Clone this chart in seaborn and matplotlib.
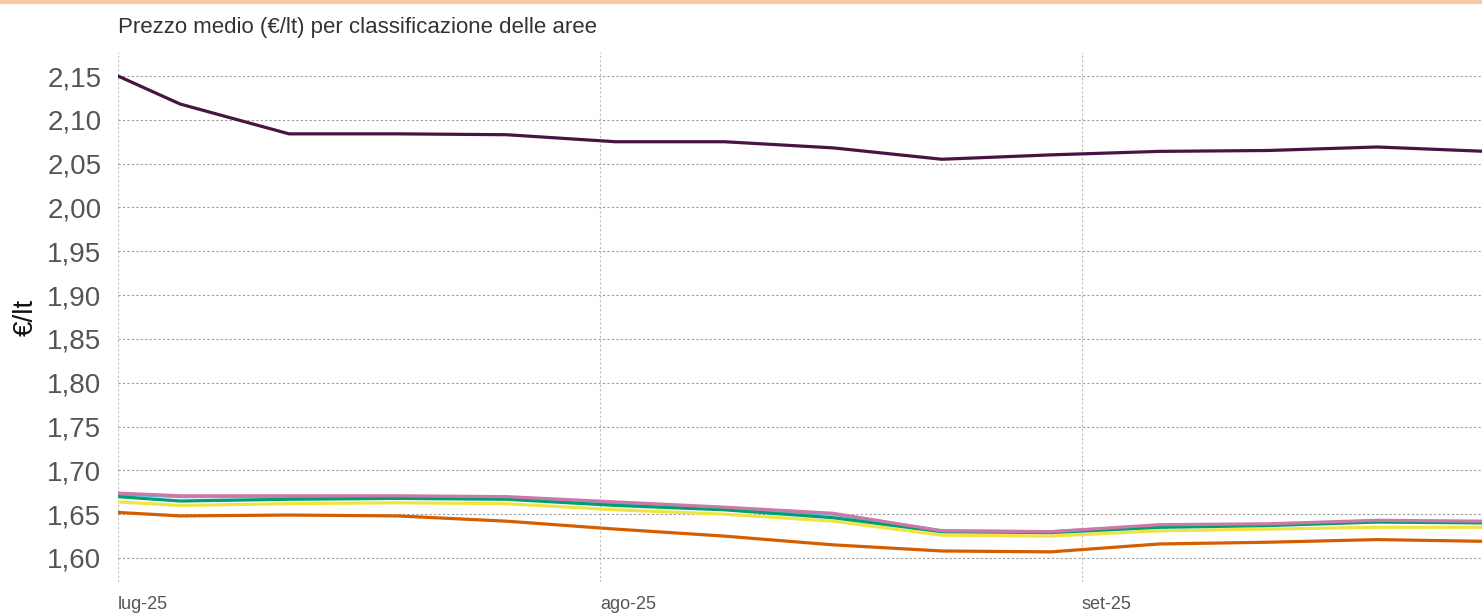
import matplotlib
matplotlib.use("Agg")
import matplotlib.pyplot as plt
from matplotlib.patches import Rectangle
import pandas as pd
import seaborn as sns

# Weekly survey dates
dates = ["2025-07-01", "2025-07-05", "2025-07-12", "2025-07-19", "2025-07-26",
         "2025-08-02", "2025-08-09", "2025-08-16", "2025-08-23", "2025-08-30",
         "2025-09-06", "2025-09-13", "2025-09-20", "2025-09-27"]

# Average price (€/lt) per area classification
autostrade = [2.150, 2.118, 2.084, 2.084, 2.083, 2.075, 2.075, 2.068, 2.055, 2.060,
              2.064, 2.065, 2.069, 2.064]
capoluoghi = [1.674, 1.671, 1.671, 1.671, 1.670, 1.664, 1.658, 1.651, 1.631, 1.630,
              1.638, 1.639, 1.643, 1.642]
urbane = [1.673, 1.670, 1.670, 1.670, 1.669, 1.663, 1.657, 1.650, 1.631, 1.630,
          1.637, 1.638, 1.642, 1.641]
extraurbane = [1.670, 1.665, 1.667, 1.668, 1.667, 1.660, 1.655, 1.646, 1.630, 1.629,
               1.635, 1.637, 1.641, 1.640]
montane = [1.664, 1.660, 1.662, 1.663, 1.662, 1.655, 1.650, 1.642, 1.626, 1.625,
           1.631, 1.633, 1.635, 1.635]
rurali = [1.652, 1.648, 1.649, 1.648, 1.642, 1.633, 1.625, 1.615, 1.608, 1.607,
          1.616, 1.618, 1.621, 1.619]

series = {
    "Rurali": rurali,
    "Montane": montane,
    "Urbane": urbane,
    "Extraurbane": extraurbane,
    "Capoluoghi": capoluoghi,
    "Autostrade": autostrade,
}
palette = {
    "Rurali": "#D55E00",
    "Montane": "#F0E442",
    "Extraurbane": "#009E73",
    "Urbane": "#56B4E9",
    "Capoluoghi": "#CC79A7",
    "Autostrade": "#4A1442",
}

y_ticks = [1.60, 1.65, 1.70, 1.75, 1.80, 1.85, 1.90, 1.95, 2.00, 2.05, 2.10, 2.15]
month_ticks = ["2025-07-01", "2025-08-01", "2025-09-01"]
month_labels = ["lug-25", "ago-25", "set-25"]

df = pd.concat(
    [pd.DataFrame({"data": pd.to_datetime(dates), "prezzo": v, "area": k})
     for k, v in series.items()],
    ignore_index=True,
)

sns.set_theme(style="white")
plt.rcParams["font.family"] = ["Liberation Sans", "DejaVu Sans"]

fig = plt.figure(figsize=(14.82, 6.14), dpi=100)
ax = fig.add_axes([118 / 1482, 1 - 582 / 614, 1 - 118 / 1482, (582 - 52) / 614])

sns.lineplot(data=df, x="data", y="prezzo", hue="area", hue_order=list(series.keys()),
             palette=palette, linewidth=2.3, legend=False, ax=ax)

ax.set_xlim(pd.Timestamp("2025-07-01"), pd.Timestamp("2025-09-26 18:00"))
ax.set_ylim(1.60 - 24 / 876, 2.15 + 24 / 876)

ax.set_yticks(y_ticks)
ax.set_yticklabels([f"{t:.2f}".replace(".", ",") for t in y_ticks],
                   fontsize=20, color="#555555")
ax.set_xticks(pd.to_datetime(month_ticks))
ax.set_xticklabels(month_labels, fontsize=13, color="#555555", ha="left")
ax.tick_params(axis="both", length=0)
ax.tick_params(axis="y", pad=12)
ax.tick_params(axis="x", pad=10)

ax.grid(True, axis="y", linestyle=(0, (2, 2)), color="#9a9a9a", linewidth=0.8)
ax.grid(True, axis="x", linestyle=(0, (2, 2)), color="#bdbdbd", linewidth=0.8)
for s in ax.spines.values():
    s.set_visible(False)

ax.set_xlabel("")
ax.set_ylabel("€/lt", fontsize=20, color="#111111", labelpad=6)

fig.text(118 / 1482, 1 - 27 / 614, "Prezzo medio (€/lt) per classificazione delle aree",
         fontsize=16, color="#333333", ha="left", va="center")

# thin accent band along the top edge
fig.patches.append(Rectangle((0, 1 - 4 / 614), 1, 4 / 614, transform=fig.transFigure,
                             facecolor="#F9C9A2", edgecolor="none", zorder=0))

fig.savefig("out.png", dpi=100, facecolor="white")
